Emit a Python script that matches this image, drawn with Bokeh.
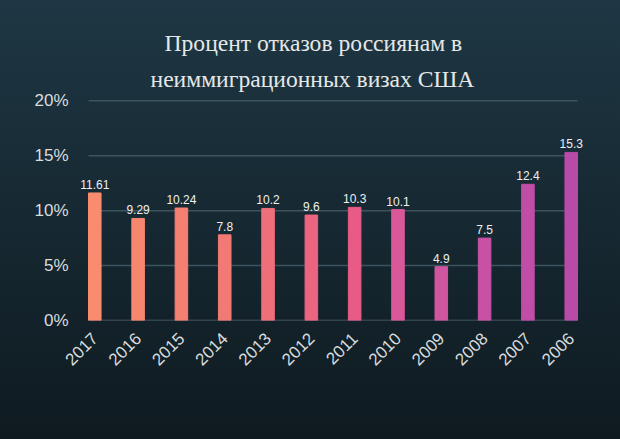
import math
from bokeh.plotting import figure
from bokeh.models import ColumnDataSource, Range1d, FixedTicker, Title, LabelSet, NumeralTickFormatter
from bokeh.core.properties import value
from bokeh.embed import file_html
from bokeh.resources import INLINE

years = ["2017", "2016", "2015", "2014", "2013", "2012", "2011", "2010", "2009", "2008", "2007", "2006"]
rates = [11.61, 9.29, 10.24, 7.8, 10.2, 9.6, 10.3, 10.1, 4.9, 7.5, 12.4, 15.3]
labels = ["11.61", "9.29", "10.24", "7.8", "10.2", "9.6", "10.3", "10.1", "4.9", "7.5", "12.4", "15.3"]
colors = ["#F98B6F", "#F7866F", "#F48072", "#F27A74", "#EE6F7A", "#EB6480",
          "#E75B86", "#D8589A", "#CF55A0", "#C851A4", "#C04DA6", "#B84AA8"]
y_ticks = [0, 5, 10, 15, 20]

bar_w = 0.29
xs = list(range(len(years)))
src = ColumnDataSource(dict(x=xs, top=rates, label=labels, color=colors))

p = figure(width=620, height=439, output_backend="svg", toolbar_location=None,
           x_range=Range1d(-0.399, len(years) - 1 + 0.445), y_range=Range1d(0, 20.3),
           min_border_left=77, min_border_right=30, min_border_top=97, min_border_bottom=119,
           styles={"background": "linear-gradient(180deg, #1e3744 0%, #172a34 45%, #0f1a20 100%)"})
p.background_fill_alpha = 0
p.border_fill_alpha = 0
p.outline_line_color = None

# grid lines spanning only the bar area
gx0 = xs[0] - bar_w / 2
gx1 = xs[-1] + bar_w / 2
p.segment(x0=[gx0] * (len(y_ticks) - 1), x1=[gx1] * (len(y_ticks) - 1), y0=y_ticks[1:], y1=y_ticks[1:],
          line_color="#3d535e", line_width=1.5)
p.segment(x0=[gx0], x1=[gx1], y0=[y_ticks[0]], y1=[y_ticks[0]], line_color="#52666f", line_width=1.5)

p.vbar(x="x", top="top", width=bar_w, color="color", source=src)

p.add_layout(LabelSet(x="x", y="top", text="label", source=src, text_align="center",
                      text_baseline="bottom", y_offset=4, text_font=value("Liberation Sans"),
                      text_font_size=value("12px"), text_color="#eef0f0"))

common = dict(align="left", text_font="Liberation Serif", text_font_size="23.6px",
              text_font_style="normal", text_color="#e6e8e8")
p.title = Title(text="Процент отказов россиянам в", offset=87, standoff=4, **common)
p.add_layout(Title(text="неиммиграционных визах США", offset=73, standoff=12, **common), "above")

p.xaxis.ticker = FixedTicker(ticks=xs)
p.xaxis.major_label_overrides = {i: y for i, y in enumerate(years)}
p.xaxis.major_label_orientation = math.pi / 4
p.xaxis.major_tick_line_color = None
p.xaxis.minor_tick_line_color = None
p.xaxis.axis_line_color = None
p.xaxis.major_label_text_font = "Liberation Sans"
p.xaxis.major_label_text_font_size = "17px"
p.xaxis.major_label_text_color = "#d8dcde"
p.xaxis.major_label_standoff = 9

p.yaxis.ticker = FixedTicker(ticks=y_ticks)
p.yaxis.formatter = NumeralTickFormatter(format="0")
p.yaxis.major_label_overrides = {t: f"{t}%" for t in y_ticks}
p.yaxis.major_tick_line_color = None
p.yaxis.minor_tick_line_color = None
p.yaxis.axis_line_color = None
p.yaxis.major_label_text_font = "Liberation Sans"
p.yaxis.major_label_text_font_size = "17px"
p.yaxis.major_label_text_color = "#d8dcde"
p.yaxis.major_label_standoff = 3

p.xgrid.grid_line_color = None
p.ygrid.grid_line_color = None

open("out.html", "w").write(file_html(p, INLINE))
